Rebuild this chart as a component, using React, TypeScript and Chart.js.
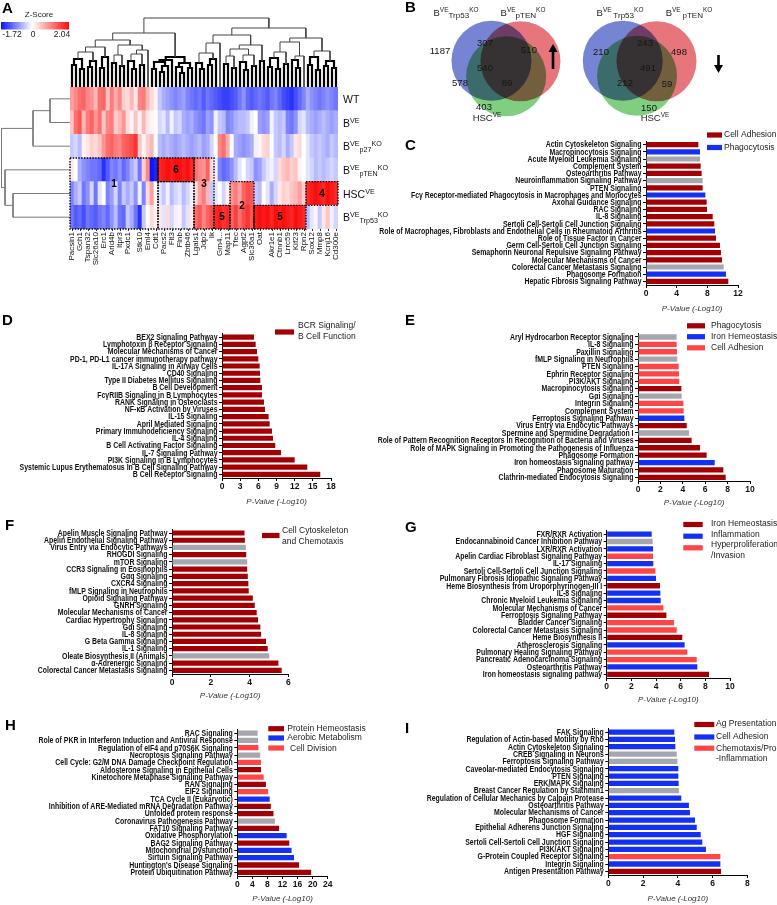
import React, { useEffect, useRef } from 'react';
import { Chart, registerables } from 'chart.js';
Chart.register(...registerables);

const SANS = '"Liberation Sans", Arial, Helvetica, sans-serif';

// ---------------- Panel A : heatmap ----------------
const zMin = -1.72;
const zMax = 2.04;
const geneLabels = ['Pacsin1', 'Gch1', 'Tspan32', 'Slc26a10', 'Erc1', 'Arid4b', 'Itpr3', 'Pxdc1', 'Stk10', 'Eml4', 'Cdt1', 'Pacs2', 'Flt3', 'Flnb', 'Zbtb46', 'Lgals1', 'Jdp2', 'Ik', 'Gm4...', 'Map11', 'Tfec', 'Agpt2', 'Slc36a1', 'Oat', 'Akr1e1', 'Ctnnb1', 'Lrrc59', 'Kif23', 'Rpn2', 'Sox12', 'Mmp8', 'Kcnj16', 'Cd300e'];
const rowNames = ['WT', 'B^{VE}', 'B^{VE}_{p27}^{KO}', 'B^{VE}_{pTEN}^{KO}', 'HSC^{VE}', 'B^{VE}_{Trp53}^{KO}'];

const wtRow = [0.8, 1.0, 1.2, 1.3, 1.0, 0.9, 0.6, 1.2, 1.3, 0.5, 1.1, 0.7, 1.0, 0.4, 0.3, 0.6, 0.2, 1.0, 1.1, 0.6, 0.3, 0.1,
  -0.4, -0.6, -0.7, -0.8, -0.9, -0.8, -0.7, -0.9, -1.0, -1.1, -1.0, -1.2,
  -1.0, -1.1, -1.2, -1.3, -1.4, -1.4, -1.3, -1.2, -1.0, -0.8, -1.1, -1.2, -1.1, -1.0, -1.1, -1.2, -1.0, -0.9, -1.1, -1.3, -1.4, -1.5, -1.3, -1.1, -0.9, -0.6, -0.8, -0.9, -1.0, -0.9, -0.8, -0.9, -1.0];
const bveRow = [0.5, 1.2, 1.4, 0.6, 1.1, 1.3, 0.9, 1.2, 0.5, 1.0, 1.1, 0.4, 0.6, 0.9, 0.3, 0.1, 0.5, 0.1, 0.6, 0.2, 0.1, 0.0,
  -0.3, -0.2, -0.5, -0.1, -0.4, -0.3, -0.6, -0.7, -0.6, -0.8, -0.9, -1.0,
  -0.7, -0.8, -0.1, -0.4, -0.5, -0.9, -0.8, -0.6, -0.5, -0.5, -0.4, -0.1, 0.0, -0.7, -0.8, -0.7, -0.1, -0.4, -0.5, -0.4, -0.9, -1.0, -0.8, -0.3, -0.2, -0.5, -0.6, -0.7, -0.6, -0.5, -0.6, -0.7, -0.6];
const p27Row = [-0.4, -0.3, -0.5, 0.1, 0.2, 0.4, 0.3, 0.5, 0.9, 1.2, 1.3, 1.1, 1.0, 1.3, 1.4, 1.5, 1.7, 0.5, 0.1, 0.4, 0.6, 0.0,
  -0.5, -0.6, -0.5, -0.6, -0.7, -0.6, -0.5, -0.6, -0.7, -0.6, -0.5, -0.7,
  -0.6, -0.3, 0.0, 1.0, 1.2, 0.7, 0.0, -0.6, -0.7, -0.8, -0.7, -0.6, -0.1, 0.1, 0.3, 0.4, 0.0, -0.4, -0.5, -0.3, -0.6, -0.4, 0.2, 0.3, 0.0, -0.2, -0.4, -0.5, -0.4, -0.5, -0.6, -0.4, -0.5];
const ptenRow = [0.2, 0.0, -0.6, -0.8, -0.9, -1.0, -1.0, -1.1, -1.5, -1.2, -0.9, -1.0, -0.8, -1.1, -0.9, -0.6, -0.4, -1.0, 0.4, 1.0, -1.7, -1.6,
  1.8, 1.9, 2.0, 1.9, 2.0, 2.0, 1.9, 2.0, 1.8,
  1.2, 1.0, 0.9, 1.3, 0.3, -0.1, -0.9, -1.1, -1.0, -0.8, -0.5, -0.2, 0.0, -0.3, -0.4, -0.8, -0.7, -0.4, -0.2, -0.1, -0.3, 0.3, 0.5, 0.6, 0.4, 0.5, 0.1, 0.0, -0.2, -0.3, -0.5, -0.4, -0.5, -0.4, -0.3, -0.4];
const hscRow = [-0.9, -0.6, -0.4, -1.0, -0.8, -0.3, -1.0, -0.2, 0.0, -0.9, -0.7, -0.3, -0.9, -0.4, -0.6, -0.4, -0.8, -0.1, -0.9, 0.3, 0.8, 0.0,
  -0.2, -0.4, -0.1, -0.5, -0.3, -0.2, -0.5, -0.3, -0.1,
  0.3, 0.8, 1.1, 0.6, -0.4,
  -0.2, 0.0, -0.3, 0.1,
  0.9, 1.1, 0.8, 1.3, 1.5, 1.4,
  -0.4, -0.5, 0.0, -0.2, -0.6, -0.3, 0.2, 0.4, 0.3, 0.5, 0.6, 0.8, 0.4,
  1.8, 1.9, 2.0, 1.9, 1.8, 2.0, 1.9, 1.8];
const trp53Row = [-1.0, -1.2, -1.1, -1.3, -1.0, -1.1, -1.2, -1.0, -0.9, -1.1, -0.8, -0.5, -1.0, -1.1, -0.4, -0.6, -1.0, -1.5, -0.4, 0.0, 0.3, 0.1,
  0.2, -0.2, 0.3, -0.3, -0.1, 0.1, -0.4, -0.2, 0.2,
  1.2, 1.4, 1.0, 1.3, 1.5,
  1.8, 1.9, 1.7, 1.8,
  1.3, 1.6, 1.2, 1.5, 1.7, 1.4,
  1.9, 2.0, 1.9, 2.0, 1.8, 2.0, 1.9, 2.0, 1.9, 1.8, 2.0, 1.9, 1.8,
  -0.5, -0.2, 0.1, -0.4, 0.2, 0.5, -0.1, -0.3];

// merge height between adjacent leaves (column dendrogram, 66 gaps for 67 columns)
const colGapHeights = [22, 28, 18, 35, 20, 26, 40, 19, 30, 47, 24, 32, 21, 42, 26, 18, 33, 22, 37, 54,
  18, 25, 15, 21, 27, 30, 20, 14, 24, 19, 69, 24, 18, 34, 22, 28, 44, 52, 23, 31,
  19, 38, 25, 17, 32, 21, 42, 26, 59, 20, 29, 18, 35, 23, 45, 27, 19, 31, 49, 22,
  30, 17, 36, 21, 26, 19];
// merge height between adjacent rows (row dendrogram)
const rowGapHeights = [20, 37, 68.5, 65, 57];

// cluster boxes: columns [c0,c1), rows [r0,r1) counted from the top
const hmBoxes = [
  { c0: 0, c1: 22, r0: 3, r1: 6, label: '1', ly: 4.1 },
  { c0: 22, c1: 31, r0: 3, r1: 4, label: '6' },
  { c0: 22, c1: 31, r0: 4, r1: 6, label: '' },
  { c0: 31, c1: 36, r0: 3, r1: 6, label: '3', ly: 4.1 },
  { c0: 36, c1: 40, r0: 5, r1: 6, label: '5' },
  { c0: 40, c1: 46, r0: 4, r1: 6, label: '2' },
  { c0: 46, c1: 59, r0: 5, r1: 6, label: '5' },
  { c0: 59, c1: 67, r0: 4, r1: 5, label: '4' },
];

// ---------------- Panel B : Venn ----------------
const vennSets = ['B^{VE}_{Trp53}^{KO}', 'B^{VE}_{pTEN}^{KO}', 'HSC^{VE}'];
const vennSetsDown = ['B^{VE }_{Trp53}^{KO}', 'B^{VE }_{pTEN}^{KO}', 'HSC^{VE}'];
// order: Trp53 only, pTEN only, HSC only, Trp53∩pTEN, Trp53∩HSC, pTEN∩HSC, all
const vennUpCounts = [1187, 510, 403, 307, 578, 89, 540];
const vennDownCounts = [210, 498, 150, 243, 212, 59, 491];

// ---------------- Panels C-I : pathway bars ----------------
const cLegend = ['Cell Adhesion', 'Phagocytosis'];
const cLabels = ['Actin Cytoskeleton Signaling', 'Macropinocytosis Signaling', 'Acute Myeloid Leukemia Signaling', 'Complement System', 'Osteoarthritis Pathway', 'Neuroinflammation Signaling Pathway', 'PTEN Signaling', 'Fcγ Receptor-mediated Phagocytosis in Macrophages and Monocytes', 'Axonal Guidance Signaling', 'RAC Signaling', 'IL-8 Signaling', 'Sertoli Cell-Sertoli Cell Junction Signaling', 'Role of Macrophages, Fibroblasts and Endothelial Cells in Rheumatoid Arthritis', 'Role of Tissue Factor in Cancer', 'Germ Cell-Sertoli Cell Junction Signaling', 'Semaphorin Neuronal Repulsive Signaling Pathway', 'Molecular Mechanisms of Cancer', 'Colorectal Cancer Metastasis Signaling', 'Phagosome Formation', 'Hepatic Fibrosis Signaling Pathway'];
const cValues = [6.83, 7.04, 7.04, 7.13, 7.26, 7.39, 7.39, 7.74, 7.91, 7.96, 8.7, 8.91, 9.0, 9.13, 9.65, 9.78, 9.91, 10.13, 10.43, 10.74];
const cGroups = [0, 1, -1, 0, 0, -1, 0, 1, 0, 0, 0, 0, 1, 0, 0, 0, 0, -1, 1, 0];

const dLegend = ['BCR Signaling/\nB Cell Function'];
const dLabels = ['BEX2 Signaling Pathway', 'Lymphotoxin β Receptor Signaling', 'Molecular Mechanisms of Cancer', 'PD-1, PD-L1 cancer immunotherapy pathway', 'IL-17A Signaling in Airway Cells', 'CD40 Signaling', 'Type II Diabetes Mellitus Signaling', 'B Cell Development', 'FcγRIIB Signaling in B Lymphocytes', 'RANK Signaling in Osteoclasts', 'NF-κB Activation by Viruses', 'IL-15 Signaling', 'April Mediated Signaling', 'Primary Immunodeficiency Signaling', 'IL-4 Signaling', 'B Cell Activating Factor Signaling', 'IL-7 Signaling Pathway', 'PI3K Signaling in B Lymphocytes', 'Systemic Lupus Erythematosus In B Cell Signaling Pathway', 'B Cell Receptor Signaling'];
const dValues = [5.28, 5.56, 5.78, 6.0, 6.22, 6.27, 6.33, 6.6, 6.6, 6.93, 7.1, 7.7, 7.87, 8.25, 8.42, 8.8, 9.74, 12.0, 14.08, 16.23];
const dGroups = [0, 0, 0, 0, 0, 0, 0, 0, 0, 0, 0, 0, 0, 0, 0, 0, 0, 0, 0, 0];

const eLegend = ['Phagocytosis', 'Iron Hemeostasis', 'Cell Adhesion'];
const eLabels = ['Aryl Hydrocarbon Receptor Signaling', 'IL-8 Signaling', 'Paxillin Signaling', 'fMLP Signaling in Neutrophils', 'PTEN Signaling', 'Ephrin Receptor Signaling', 'PI3K/AKT Signaling', 'Macropinocytosis Signaling', 'Gαi Signaling', 'Integrin Signaling', 'Complement System', 'Ferroptosis Signaling Pathway', 'Virus Entry via Endocytic Pathways', 'Spermine and Spermidine Degradation I', 'Role of Pattern Recognition Receptors in Recognition of Bacteria and Viruses', 'Role of MAPK Signaling in Promoting the Pathogenesis of Influenza', 'Phagosome Formation', 'Iron homeostasis signaling pathway', 'Phagosome Maturation', 'Clathrin-mediated Endocytosis Signaling'];
const eValues = [3.45, 3.45, 3.48, 3.51, 3.63, 3.66, 3.69, 3.87, 3.9, 4.05, 4.08, 4.14, 4.35, 4.55, 4.79, 5.54, 6.13, 6.85, 7.62, 7.83];
const eGroups = [-1, 2, 2, -1, 2, 2, 2, 0, -1, 2, 2, 1, 0, -1, 0, 0, 0, 1, 0, 0];

const fLegend = ['Cell Cytoskeleton\nand Chemotaxis'];
const fLabels = ['Apelin Muscle Signaling Pathway', 'Apelin Endothelial Signaling Pathway', 'Virus Entry via Endocytic Pathways', 'RHOGDI Signaling', 'mTOR Signaling', 'CCR3 Signaling in Eosinophils', 'Gαq Signaling', 'CXCR4 Signaling', 'fMLP Signaling in Neutrophils', 'Opioid Signaling Pathway', 'GNRH Signaling', 'Molecular Mechanisms of Cancer', 'Cardiac Hypertrophy Signaling', 'Gαi Signaling', 'IL-8 Signaling', 'G Beta Gamma Signaling', 'IL-1 Signaling', 'Oleate Biosynthesis II (Animals)', 'α-Adrenergic Signaling', 'Colorectal Cancer Metastasis Signaling'];
const fValues = [3.74, 3.76, 3.81, 3.83, 3.88, 3.88, 3.91, 3.94, 3.96, 4.17, 4.27, 4.37, 4.44, 4.56, 4.6, 4.85, 4.94, 5.02, 5.49, 5.66];
const fGroups = [0, 0, -1, 0, -1, 0, 0, 0, 0, 0, 0, 0, 0, 0, 0, 0, 0, -1, 0, 0];

const gLegend = ['Iron Hemeostasis', 'Inflammation', 'Hyperproliferation\n/Invasion'];
const gLabels = ['FXR/RXR Activation', 'Endocannabinoid Cancer Inhibition Pathway', 'LXR/RXR Activation', 'Apelin Cardiac Fibroblast Signaling Pathway', 'IL-17 Signaling', 'Sertoli Cell-Sertoli Cell Junction Signaling', 'Pulmonary Fibrosis Idiopathic Signaling Pathway', 'Heme Biosynthesis from Uroporphyrinogen-III I', 'IL-8 Signaling', 'Chronic Myeloid Leukemia Signaling', 'Molecular Mechanisms of Cancer', 'Ferroptosis Signaling Pathway', 'Bladder Cancer Signaling', 'Colorectal Cancer Metastasis Signaling', 'Heme Biosynthesis II', 'Atherosclerosis Signaling', 'Pulmonary Healing Signaling Pathway', 'Pancreatic Adenocarcinoma Signaling', 'Osteoarthritis Pathway', 'Iron homeostasis signaling pathway'];
const gValues = [3.65, 3.73, 3.76, 3.76, 3.78, 3.95, 4.0, 4.32, 4.35, 4.38, 4.6, 4.84, 5.46, 5.68, 6.13, 6.32, 6.54, 7.3, 7.35, 8.3];
const gGroups = [1, -1, 1, 2, 1, 2, 1, 0, 1, 1, 2, 0, 2, 2, 0, 1, 2, 2, 1, 0];

const hLegend = ['Protein Hemeostasis', 'Aerobic Metabolism', 'Cell Division'];
const hLabels = ['RAC Signaling', 'Role of PKR in Interferon Induction and Antiviral Response', 'Regulation of eIF4 and p70S6K Signaling', 'Necroptosis Signaling Pathway', 'Cell Cycle: G2/M DNA Damage Checkpoint Regulation', 'Aldosterone Signaling in Epithelial Cells', 'Kinetochore Metaphase Signaling Pathway', 'RAN Signaling', 'EIF2 Signaling', 'TCA Cycle II (Eukaryotic)', 'Inhibition of ARE-Mediated mRNA Degradation Pathway', 'Unfolded protein response', 'Coronavirus Pathogenesis Pathway', 'FAT10 Signaling Pathway', 'Oxidative Phosphorylation', 'BAG2 Signaling Pathway', 'Mitochondrial Dysfunction', 'Sirtuin Signaling Pathway', "Huntington's Disease Signaling", 'Protein Ubiquitination Pathway'];
const hValues = [5.4, 5.5, 5.6, 6.1, 6.3, 6.3, 7.0, 7.6, 8.2, 8.6, 8.9, 9.6, 10.0, 11.1, 13.1, 13.8, 14.4, 15.05, 16.4, 19.6];
const hGroups = [-1, -1, 2, -1, 2, 0, 2, 0, 2, 1, 0, 0, -1, 0, 1, 0, 1, 1, 0, 0];

const iLegend = ['Ag Presentation', 'Cell Adhesion', 'Chemotaxis/Pro\n-Inflammation'];
const iLabels = ['FAK Signaling', 'Regulation of Actin-based Motility by Rho', 'Actin Cytoskeleton Signaling', 'CREB Signaling in Neurons', 'Ferroptosis Signaling Pathway', 'Caveolar-mediated Endocytosis Signaling', 'PTEN Signaling', 'ERK/MAPK Signaling', 'Breast Cancer Regulation by Stathmin1', 'Regulation of Cellular Mechanics by Calpain Protease', 'Osteoarthritis Pathway', 'Molecular Mechanisms of Cancer', 'Phagosome Formation', 'Epithelial Adherens Junction Signaling', 'HGF Signaling', 'Sertoli Cell-Sertoli Cell Junction Signaling', 'PI3K/AKT Signaling', 'G-Protein Coupled Receptor Signaling', 'Integrin Signaling', 'Antigen Presentation Pathway'];
const iValues = [3.8, 3.84, 3.86, 3.94, 3.98, 4.03, 4.03, 4.05, 4.07, 4.2, 4.64, 4.7, 4.99, 5.09, 5.32, 5.41, 5.62, 6.45, 6.45, 6.49];
const iGroups = [1, 1, 1, -1, -1, 1, 1, 1, -1, 1, 1, 1, 1, 1, 1, 1, 1, 2, 1, 0];

// ---------------- styles ----------------
const DR = '#A30005';
const BL = '#1430F2';
const LR = '#FF4545';
const GR = '#A6A6AE';
const LABEL_SIZE = 8.3;
const LABEL_SQUEEZE = 0.835;

type Box = { x: number; y: number; w: number; h: number };

function rgb(r: number, g: number, b: number) {
  return `rgb(${Math.round(r)},${Math.round(g)},${Math.round(b)})`;
}
function zColor(v: number) {
  if (v < 0) {
    const t = Math.min(1, -v / -zMin);
    return rgb(255 - t * 245, 255 - t * 235, 255 - t * 5);
  }
  const t = Math.min(1, v / zMax);
  return rgb(255 - t * 5, 255 - t * 245, 255 - t * 245);
}

function parseRich(s: string) {
  const parts: { t: string; k: string }[] = [];
  const re = /\^\{([^}]*)\}|_\{([^}]*)\}|([^^_]+)/g;
  let m: RegExpExecArray | null;
  while ((m = re.exec(s))) {
    if (m[1] !== undefined) parts.push({ t: m[1], k: 'sup' });
    else if (m[2] !== undefined) parts.push({ t: m[2], k: 'sub' });
    else parts.push({ t: m[3], k: 'n' });
  }
  return parts;
}
function drawRich(ctx: CanvasRenderingContext2D, s: string, x: number, y: number, size: number, align: string, subScale = 0.68) {
  const parts = parseRich(s);
  const fs = (k: string) => (k === 'n' ? size : k === 'sub' ? size * subScale : size * 0.68);
  const font = (k: string) => `${fs(k)}px ${SANS}`;
  const widths = parts.map((p) => { ctx.font = font(p.k); return ctx.measureText(p.t).width; });
  const total = widths.reduce((a, b) => a + b, 0);
  let cx = align === 'center' ? x - total / 2 : x;
  ctx.textAlign = 'left';
  ctx.textBaseline = 'alphabetic';
  parts.forEach((p, i) => {
    ctx.font = font(p.k);
    const dy = p.k === 'sup' ? -size * 0.38 : p.k === 'sub' ? size * 0.2 : 0;
    ctx.fillText(p.t, cx, y + dy);
    cx += widths[i];
  });
}
function letter(ctx: CanvasRenderingContext2D, t: string, x: number, y: number) {
  ctx.fillStyle = '#000';
  ctx.font = `bold 15px ${SANS}`;
  ctx.textAlign = 'left';
  ctx.textBaseline = 'alphabetic';
  ctx.fillText(t, x, y);
}
function overlay(box: Box, draw: (chart: any, ctx: CanvasRenderingContext2D) => void) {
  return {
    id: 'overlay',
    afterDraw(chart: any) {
      const ctx = chart.ctx as CanvasRenderingContext2D;
      ctx.save();
      ctx.translate(-box.x, -box.y);
      draw(chart, ctx);
      ctx.restore();
    },
  };
}

function dendroSegments(gaps: number[]) {
  const segs: Array<[number, number] | null> = [];
  const build = (lo: number, hi: number): { pos: number; h: number } => {
    if (lo === hi) return { pos: lo, h: 0 };
    let k = lo;
    for (let i = lo; i < hi; i++) if (gaps[i] > gaps[k]) k = i;
    const L = build(lo, k);
    const R = build(k + 1, hi);
    const h = gaps[k];
    segs.push([L.pos, L.h], [L.pos, h], [R.pos, h], [R.pos, R.h], null);
    return { pos: (L.pos + R.pos) / 2, h };
  };
  build(0, gaps.length);
  return segs;
}

const baseOpts = {
  animation: false,
  responsive: false,
  maintainAspectRatio: false,
  events: [],
};

// ---------- heatmap ----------
const HM = { l: 70, r: 338, t: 87, b: 229 };
function heatmapConfig(box: Box): any {
  const rows = [wtRow, bveRow, p27Row, ptenRow, hscRow, trp53Row];
  const n = wtRow.length;
  const colLabels: string[] = new Array(n).fill('');
  geneLabels.forEach((g, k) => { colLabels[Math.round((k * (n - 1)) / (geneLabels.length - 1))] = g; });
  const datasets = rows.map((row, r) => ({
    label: rowNames[r],
    data: row.map(() => 1),
    backgroundColor: row.map(zColor),
    borderWidth: 0,
    barPercentage: 1,
    categoryPercentage: 1,
  })).reverse();
  const xH = 38;
  return {
    type: 'bar',
    data: { labels: colLabels, datasets },
    options: {
      ...baseOpts,
      layout: { padding: { left: HM.l - box.x, right: box.x + box.w - HM.r, top: HM.t - box.y, bottom: box.y + box.h - HM.b - xH } },
      plugins: { legend: { display: false }, tooltip: { enabled: false } },
      scales: {
        x: {
          type: 'category', stacked: true, offset: true,
          grid: { display: true, drawOnChartArea: false, drawTicks: true, tickLength: 2, offset: false, color: (c: any) => (colLabels[c.index] ? '#333' : 'rgba(0,0,0,0)') },
          border: { display: false },
          ticks: { autoSkip: false, minRotation: 90, maxRotation: 90, padding: 1, color: '#111', font: { family: SANS, size: 8 } },
          afterFit: (s: any) => { s.height = xH; },
        },
        y: { stacked: true, min: 0, max: rows.length, display: false },
      },
    },
    plugins: [overlay(box, (chart, ctx) => {
      const xs = chart.scales.x;
      const ys = chart.scales.y;
      const nRows = rows.length;
      const colW = xs.getPixelForValue(1) - xs.getPixelForValue(0);
      const cx = (c: number) => xs.getPixelForValue(0) - colW / 2 + c * colW;
      const ry = (r: number) => ys.getPixelForValue(nRows - r);
      // colour bar
      const g = ctx.createLinearGradient(1, 0, 69, 0);
      g.addColorStop(0, zColor(zMin));
      g.addColorStop(-zMin / (zMax - zMin), '#ffffff');
      g.addColorStop(1, zColor(zMax));
      ctx.fillStyle = g;
      ctx.fillRect(1, 22, 68, 7.5);
      ctx.fillStyle = '#222';
      ctx.font = `8px ${SANS}`;
      ctx.textAlign = 'center';
      ctx.textBaseline = 'middle';
      ctx.fillText('Z-Score', 39, 15);
      ctx.font = `8.5px ${SANS}`;
      ctx.fillText(String(zMin), 12, 35);
      ctx.fillText('0', 33, 35);
      ctx.fillText(String(zMax), 62, 35);
      letter(ctx, 'A', 2, 13);
      // boxes
      ctx.strokeStyle = '#000';
      ctx.lineWidth = 1.4;
      ctx.setLineDash([1.4, 1.4]);
      hmBoxes.forEach((b) => {
        ctx.strokeRect(cx(b.c0), ry(b.r0), cx(b.c1) - cx(b.c0), ry(b.r1) - ry(b.r0));
      });
      ctx.setLineDash([]);
      ctx.fillStyle = '#000';
      ctx.font = `bold 10px ${SANS}`;
      ctx.textAlign = 'center';
      ctx.textBaseline = 'middle';
      hmBoxes.forEach((b: any) => {
        if (!b.label) return;
        const ly = b.ly !== undefined ? b.ly : (b.r0 + b.r1) / 2;
        ctx.fillText(b.label, (cx(b.c0) + cx(b.c1)) / 2, ry(ly) + 0.5);
      });
      // row labels
      ctx.fillStyle = '#111';
      rowNames.forEach((name, r) => {
        drawRich(ctx, name, HM.r + 5, ry(r + 0.5) + 4, 10.5, 'left');
      });
    })],
  };
}

function colDendroConfig(box: Box): any {
  const segs = dendroSegments(colGapHeights);
  const data = segs.map((s) => (s ? { x: s[0], y: s[1] } : { x: null, y: null }));
  const top = 17;
  const low = (c: any) => Math.max(c.p0.parsed.y, c.p1.parsed.y) <= 30;
  return {
    type: 'scatter',
    data: {
      datasets: [{
        data, showLine: true, pointRadius: 0, borderColor: '#444', borderWidth: 1, spanGaps: false, clip: false,
        segment: {
          borderWidth: (c: any) => (low(c) ? 2.2 : 1),
          borderColor: (c: any) => (low(c) ? '#000' : '#444'),
        },
      }],
    },
    options: {
      ...baseOpts,
      layout: { padding: { left: HM.l - box.x, right: box.x + box.w - HM.r, top: top - box.y, bottom: box.y + box.h - HM.t } },
      plugins: { legend: { display: false }, tooltip: { enabled: false } },
      scales: {
        x: { type: 'linear', min: -0.5, max: colGapHeights.length + 0.5, display: false },
        y: { type: 'linear', min: 0, max: 70, display: false },
      },
    },
  };
}

function rowDendroConfig(box: Box): any {
  const segs = dendroSegments(rowGapHeights);
  const data = segs.map((s) => (s ? { x: s[1], y: s[0] } : { x: null, y: null }));
  return {
    type: 'scatter',
    data: { datasets: [{ data, showLine: true, pointRadius: 0, borderColor: '#7a7a7a', borderWidth: 1, spanGaps: false, clip: false }] },
    options: {
      ...baseOpts,
      layout: { padding: { left: 0 - box.x, right: box.x + box.w - HM.l, top: HM.t - box.y, bottom: box.y + box.h - HM.b } },
      plugins: { legend: { display: false }, tooltip: { enabled: false } },
      scales: {
        x: { type: 'linear', min: 0, max: 70, reverse: true, display: false },
        y: { type: 'linear', min: -0.5, max: rowGapHeights.length + 0.5, reverse: true, display: false },
      },
    },
  };
}

// ---------- Venn ----------
const VENN_LAYOUT = [
  {
    circles: [[467.5, 51], [504, 52], [486, 89]],
    regions: [[440, 51], [529, 50], [484, 107], [485, 43], [460, 83], [507, 83], [485, 68]],
    names: [[456, 16], [523, 16], [487, 121]],
    arrow: { x: 553, y0: 69, y1: 44, up: true },
  },
  {
    circles: [[633, 51], [675.5, 52], [651, 88]],
    regions: [[601, 52], [679, 52], [649, 108], [645, 43], [625, 83], [667, 84], [648, 68]],
    names: [[620, 16], [689, 16], [655, 121]],
    arrow: { x: 718.5, y0: 55, y1: 73, up: false },
  },
];
const VENN_COLORS = ['rgb(118,132,212)', 'rgb(230,118,124)', 'rgb(128,206,128)'];

function vennConfig(box: Box): any {
  const datasets: any[] = [];
  VENN_LAYOUT.forEach((v) => {
    [2, 1, 0].forEach((k) => {
      datasets.push({
        data: [{ x: v.circles[k][0], y: v.circles[k][1] }],
        pointRadius: 40,
        pointHoverRadius: 40,
        backgroundColor: VENN_COLORS[k],
        borderWidth: 0,
        clip: false,
      });
    });
  });
  const counts = [vennUpCounts, vennDownCounts];
  const names = [vennSets, vennSetsDown];
  return {
    type: 'scatter',
    data: { datasets },
    options: {
      ...baseOpts,
      layout: { padding: 0 },
      plugins: { legend: { display: false }, tooltip: { enabled: false } },
      scales: {
        x: { type: 'linear', min: box.x, max: box.x + box.w, display: false },
        y: { type: 'linear', min: box.y, max: box.y + box.h, reverse: true, display: false },
      },
    },
    plugins: [
      {
        id: 'multiply',
        beforeDatasetsDraw(chart: any) { chart.ctx.save(); chart.ctx.globalCompositeOperation = 'multiply'; },
        afterDatasetsDraw(chart: any) { chart.ctx.restore(); },
      },
      overlay(box, (chart, ctx) => {
        letter(ctx, 'B', 405, 12);
        VENN_LAYOUT.forEach((v, vi) => {
          ctx.fillStyle = '#151515';
          ctx.font = `9.5px ${SANS}`;
          ctx.textAlign = 'center';
          ctx.textBaseline = 'middle';
          counts[vi].forEach((c, i) => ctx.fillText(String(c), v.regions[i][0], v.regions[i][1]));
          ctx.fillStyle = '#222';
          names[vi].forEach((nm, i) => drawRich(ctx, nm, v.names[i][0], v.names[i][1], 9.5, 'center', 0.85));
          const a = v.arrow;
          const dir = a.up ? -1 : 1;
          const tipY = a.y1;
          const baseY = tipY - dir * 8;
          ctx.fillStyle = '#000';
          ctx.fillRect(a.x - 1.3, Math.min(a.y0, baseY), 2.6, Math.abs(a.y0 - baseY));
          ctx.beginPath();
          ctx.moveTo(a.x, tipY);
          ctx.lineTo(a.x - 4.5, baseY);
          ctx.lineTo(a.x + 4.5, baseY);
          ctx.closePath();
          ctx.fill();
        });
      }),
    ],
  };
}

// ---------- bar panels ----------
type Panel = {
  key: string; labels: string[]; values: number[]; groups: number[]; legend: string[]; colors: string[];
  xMax: number; step: number; box: Box; area: { l: number; r: number; t: number; b: number }; titleY: number;
  letterPos: [number, number]; leg: { sx: number; sw: number; sys: number[]; tx: number[]; tys: number[] };
};

const PANELS: Panel[] = [
  {
    key: 'C', labels: cLabels, values: cValues, groups: cGroups, legend: cLegend, colors: [DR, BL], xMax: 12, step: 4,
    box: { x: 360, y: 128, w: 417, h: 190 }, area: { l: 646, r: 738, t: 141, b: 285 }, titleY: 309, letterPos: [405, 150],
    leg: { sx: 707, sw: 15, sys: [135, 147.5], tx: [724, 724], tys: [135, 147.5] },
  },
  {
    key: 'D', labels: dLabels, values: dValues, groups: dGroups, legend: dLegend, colors: [DR], xMax: 18, step: 3,
    box: { x: 0, y: 300, w: 380, h: 210 }, area: { l: 222, r: 331, t: 333.5, b: 478 }, titleY: 502, letterPos: [2, 325],
    leg: { sx: 275, sw: 19, sys: [332], tx: [298], tys: [331] },
  },
  {
    key: 'E', labels: eLabels, values: eValues, groups: eGroups, legend: eLegend, colors: [DR, BL, LR], xMax: 10, step: 2,
    box: { x: 360, y: 300, w: 417, h: 210 }, area: { l: 638, r: 750, t: 333.3, b: 481 }, titleY: 503, letterPos: [405, 325],
    leg: { sx: 687, sw: 18, sys: [325.8, 336.7, 347.8], tx: [711, 711, 711], tys: [325.8, 336.7, 347.8] },
  },
  {
    key: 'F', labels: fLabels, values: fValues, groups: fGroups, legend: fLegend, colors: [DR], xMax: 6, step: 2,
    box: { x: 0, y: 505, w: 385, h: 200 }, area: { l: 172, r: 288.3, t: 529.4, b: 674 }, titleY: 696, letterPos: [5, 530],
    leg: { sx: 262, sw: 17.5, sys: [535.5], tx: [282], tys: [536] },
  },
  {
    key: 'G', labels: gLabels, values: gValues, groups: gGroups, legend: gLegend, colors: [DR, BL, LR], xMax: 10, step: 2,
    box: { x: 385, y: 505, w: 392, h: 200 }, area: { l: 606.7, r: 730, t: 530.4, b: 678 }, titleY: 700, letterPos: [405, 532],
    leg: { sx: 683.3, sw: 19.4, sys: [524.5, 536.2, 547.8], tx: [711, 711, 711], tys: [523.3, 535, 550] },
  },
  {
    key: 'H', labels: hLabels, values: hValues, groups: hGroups, legend: hLegend, colors: [DR, BL, LR], xMax: 24, step: 4,
    box: { x: 0, y: 705, w: 385, h: 200 }, area: { l: 237.3, r: 327.7, t: 729.4, b: 876 }, titleY: 899, letterPos: [5, 730],
    leg: { sx: 268.3, sw: 15.7, sys: [728.7, 738, 748], tx: [287.3, 287.3, 290], tys: [728.3, 737.3, 749] },
  },
  {
    key: 'I', labels: iLabels, values: iValues, groups: iGroups, legend: iLegend, colors: [DR, BL, LR], xMax: 8, step: 2,
    box: { x: 385, y: 705, w: 392, h: 200 }, area: { l: 608.3, r: 747.3, t: 728.4, b: 875 }, titleY: 899, letterPos: [405, 733],
    leg: { sx: 694.3, sw: 20, sys: [724.5, 737, 748.2], tx: [716, 716, 716], tys: [723.3, 736.7, 753.6] },
  },
];

// category tick labels of the y axis, drawn at the scale's own tick positions in a condensed bold face
const condensedTickLabels = {
  id: 'condensedTickLabels',
  afterDraw(chart: any) {
    const ys = chart.scales.y;
    const ctx = chart.ctx as CanvasRenderingContext2D;
    ctx.save();
    ctx.fillStyle = '#111';
    ctx.font = `bold ${LABEL_SIZE}px ${SANS}`;
    ctx.textAlign = 'right';
    ctx.textBaseline = 'middle';
    const xr = ys.right - 4.5;
    ys.ticks.forEach((t: any, i: number) => {
      const y = ys.getPixelForTick(i);
      ctx.save();
      ctx.translate(xr, y + 0.5);
      ctx.scale(LABEL_SQUEEZE, 1);
      ctx.fillText(String(t.label), 0, 0);
      ctx.restore();
    });
    ctx.restore();
  },
};

function barConfig(p: Panel): any {
  const { box, area } = p;
  const yW = area.l - box.x;
  const xH = p.titleY - area.b + 4.8;
  return {
    type: 'bar',
    data: {
      labels: p.labels,
      datasets: [{
        data: p.values,
        backgroundColor: p.groups.map((g) => (g >= 0 ? p.colors[g] : GR)),
        borderWidth: 0,
        barPercentage: 0.72,
        categoryPercentage: 1,
      }],
    },
    options: {
      ...baseOpts,
      indexAxis: 'y',
      layout: { padding: { left: 0, right: box.x + box.w - area.r, top: area.t - box.y, bottom: box.y + box.h - area.b - xH } },
      plugins: { legend: { display: false }, tooltip: { enabled: false } },
      scales: {
        y: {
          type: 'category', offset: true,
          grid: { display: true, drawOnChartArea: false, drawTicks: true, tickLength: 3, offset: false, color: '#000', lineWidth: 1 },
          border: { display: true, color: '#000', width: 1 },
          ticks: { display: false, autoSkip: false },
          afterFit: (s: any) => { s.width = yW; },
        },
        x: {
          type: 'linear', min: 0, max: p.xMax,
          ticks: { stepSize: p.step, autoSkip: false, minRotation: 0, maxRotation: 0, padding: 1, color: '#111', font: { family: SANS, size: 8.5, weight: 'bold' } },
          grid: { display: true, drawOnChartArea: false, drawTicks: true, tickLength: 3, color: '#000' },
          border: { display: true, color: '#000', width: 1 },
          title: { display: true, text: 'P-Value (-Log10)', color: '#333', padding: 0, font: { family: SANS, size: 8, style: 'italic' } },
          afterFit: (s: any) => { s.height = xH; },
        },
      },
    },
    plugins: [condensedTickLabels, overlay(box, (chart, ctx) => {
      letter(ctx, p.key, p.letterPos[0], p.letterPos[1]);
      const L = p.leg;
      p.legend.forEach((name, i) => {
        ctx.fillStyle = p.colors[i];
        ctx.fillRect(L.sx, L.sys[i] - 2.6, L.sw, 5.2);
        ctx.fillStyle = '#222';
        ctx.font = `8.5px ${SANS}`;
        ctx.textAlign = 'left';
        ctx.textBaseline = 'middle';
        const lines = name.split('\n');
        lines.forEach((ln, j) => {
          ctx.fillText(ln, L.tx[i], L.tys[i] + (j - (lines.length - 1) / 2) * 10.5);
        });
      });
    })],
  };
}

function ChartBox({ box, build }: { box: Box; build: (b: Box) => any }) {
  const ref = useRef<HTMLCanvasElement>(null);
  useEffect(() => {
    const chart = new Chart(ref.current as HTMLCanvasElement, build(box));
    return () => chart.destroy();
  }, []);
  return (
    <canvas
      ref={ref}
      width={box.w}
      height={box.h}
      style={{ position: 'absolute', left: box.x, top: box.y, width: box.w, height: box.h }}
    />
  );
}

export default function App() {
  return (
    <div style={{ position: 'absolute', left: 0, top: 0, width: 777, height: 905, background: '#fff', overflow: 'hidden' }}>
      <ChartBox box={{ x: 60, y: 8, w: 290, h: 80 }} build={colDendroConfig} />
      <ChartBox box={{ x: 0, y: 80, w: 72, h: 156 }} build={rowDendroConfig} />
      <ChartBox box={{ x: 0, y: 0, w: 400, h: 268 }} build={heatmapConfig} />
      <ChartBox box={{ x: 390, y: 0, w: 387, h: 135 }} build={vennConfig} />
      {PANELS.map((p) => (
        <ChartBox key={p.key} box={p.box} build={() => barConfig(p)} />
      ))}
    </div>
  );
}
